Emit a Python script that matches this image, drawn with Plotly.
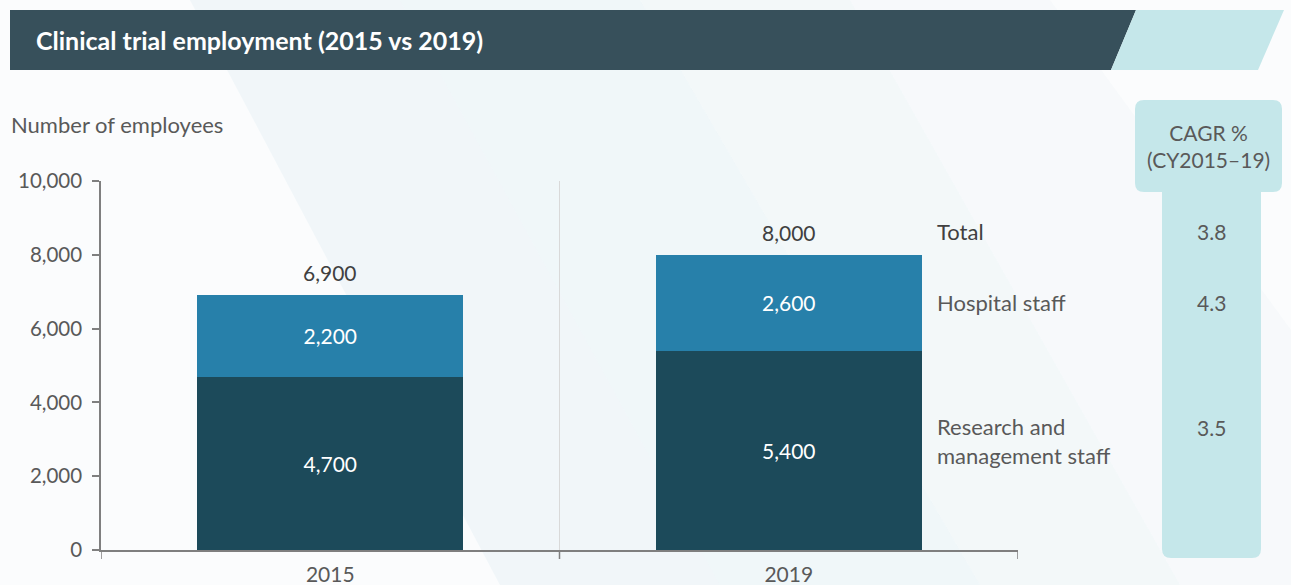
import plotly.graph_objects as go

# ---- data ----
years = ["2015", "2019"]
research_staff = [4700, 5400]
hospital_staff = [2200, 2600]
totals = [6900, 8000]
cagr_labels = ["Total", "Hospital staff", "Research and<br>management staff"]
cagr_values = [3.8, 4.3, 3.5]
y_ticks = [0, 2000, 4000, 6000, 8000, 10000]

# ---- page geometry (pixels) ----
W, H = 1291, 585
FONT = "Lato"
DARK = "#1C4A5A"
BLUE = "#2780AA"
BAND = "#37505B"
CYAN = "#C5E7EA"
GREY_TXT = "#595959"


def px(x):
    return x / W


def py(y):
    return 1 - y / H


def poly(points):
    pts = [f"{px(x):.5f},{py(y):.5f}" for x, y in points]
    return "M " + " L ".join(pts) + " Z"


def rounded_rect(x0, y0, x1, y1, r_top, r_bot):
    # rounded rectangle in pixel space, converted to paper coords
    segs = [
        f"M {px(x0 + r_top):.5f},{py(y0):.5f}",
        f"L {px(x1 - r_top):.5f},{py(y0):.5f}",
        f"Q {px(x1):.5f},{py(y0):.5f} {px(x1):.5f},{py(y0 + r_top):.5f}",
        f"L {px(x1):.5f},{py(y1 - r_bot):.5f}",
        f"Q {px(x1):.5f},{py(y1):.5f} {px(x1 - r_bot):.5f},{py(y1):.5f}",
        f"L {px(x0 + r_bot):.5f},{py(y1):.5f}",
        f"Q {px(x0):.5f},{py(y1):.5f} {px(x0):.5f},{py(y1 - r_bot):.5f}",
        f"L {px(x0):.5f},{py(y0 + r_top):.5f}",
        f"Q {px(x0):.5f},{py(y0):.5f} {px(x0 + r_top):.5f},{py(y0):.5f}",
        "Z",
    ]
    return " ".join(segs)


fig = go.Figure()

for vals, col, name in [(research_staff, DARK, "Research and management staff"),
                        (hospital_staff, BLUE, "Hospital staff")]:
    fig.add_trace(go.Bar(
        x=[0, 1], y=vals, name=name,
        marker=dict(color=col, line=dict(width=0)),
        texttemplate="%{y:,.0f}", textposition="inside", insidetextanchor="middle",
        textfont=dict(family=FONT, size=21, color="white"),
        constraintext="none", width=0.58, hoverinfo="skip",
    ))

shapes = []

# faint diagonal background bands
bg_bands = [
    ([(190, 0), (400, 0), (720, 585), (500, 585)], "rgba(205,228,236,0.22)"),
    ([(400, 0), (640, 0), (980, 585), (720, 585)], "rgba(215,234,241,0.30)"),
    ([(640, 0), (850, 0), (1180, 585), (980, 585)], "rgba(225,238,243,0.30)"),
    ([(850, 0), (1050, 0), (1291, 330), (1291, 585), (1180, 585)], "rgba(232,242,246,0.22)"),
]
for pts, col in bg_bands:
    shapes.append(dict(type="path", xref="paper", yref="paper", path=poly(pts),
                       fillcolor=col, line=dict(width=0), layer="below"))

# title banner
shapes.append(dict(type="path", xref="paper", yref="paper",
                   path=poly([(10, 10), (1136, 10), (1111, 70), (10, 70)]),
                   fillcolor=BAND, line=dict(width=0), layer="below"))
shapes.append(dict(type="path", xref="paper", yref="paper",
                   path=poly([(1136, 10), (1284, 10), (1258, 70), (1111, 70)]),
                   fillcolor=CYAN, line=dict(width=0), layer="below"))

# CAGR panel
shapes.append(dict(type="path", xref="paper", yref="paper",
                   path=rounded_rect(1135, 100, 1282, 192, 9, 9),
                   fillcolor=CYAN, line=dict(width=0), layer="below"))
shapes.append(dict(type="path", xref="paper", yref="paper",
                   path=rounded_rect(1162, 180, 1261, 558, 0, 9),
                   fillcolor=CYAN, line=dict(width=0), layer="below"))

# divider between the two years
shapes.append(dict(type="line", xref="x", yref="y", x0=0.5, x1=0.5, y0=0, y1=10000,
                   line=dict(color="#D9D9D9", width=1), layer="below"))

annotations = []

# title
annotations.append(dict(xref="paper", yref="paper", x=px(34), y=py(40),
                        xanchor="left", yanchor="middle", showarrow=False,
                        text="<b>Clinical trial employment (2015 vs 2019)</b>",
                        font=dict(family=FONT, size=25, color="white")))
# axis caption
annotations.append(dict(xref="paper", yref="paper", x=px(9), y=py(124),
                        xanchor="left", yanchor="middle", showarrow=False,
                        text="Number of employees",
                        font=dict(family=FONT, size=22, color=GREY_TXT)))

# totals above bars
for i, tot in enumerate(totals):
    annotations.append(dict(xref="x", yref="y", x=i, y=tot, yanchor="bottom",
                            yshift=8, showarrow=False, text=f"{tot:,}",
                            font=dict(family=FONT, size=21, color="#404040")))

# CAGR header
annotations.append(dict(xref="paper", yref="paper", x=px(1208), y=py(146),
                        xanchor="center", yanchor="middle", showarrow=False,
                        text="CAGR %<br>(CY2015–19)", align="center",
                        font=dict(family=FONT, size=21, color=GREY_TXT)))

# series labels and CAGR values, placed beside the 2019 bar
label_y = [totals[1], research_staff[1] + hospital_staff[1] / 2, research_staff[1] / 2]
label_shift = [23, 0, 9]
value_shift = [23, 0, 23]
label_col = ["#404040", GREY_TXT, GREY_TXT]
for lab, val, ly, sh, vsh, col in zip(cagr_labels, cagr_values, label_y,
                                      label_shift, value_shift, label_col):
    annotations.append(dict(xref="paper", yref="y", x=px(935), y=ly, yshift=sh,
                            xanchor="left", yanchor="middle", showarrow=False,
                            text=lab, align="left",
                            font=dict(family=FONT, size=22, color=col)))
    annotations.append(dict(xref="paper", yref="y", x=px(1211), y=ly, yshift=vsh,
                            xanchor="center", yanchor="middle", showarrow=False,
                            text=f"{val:.1f}",
                            font=dict(family=FONT, size=21, color=GREY_TXT)))

fig.update_layout(
    width=W, height=H,
    margin=dict(l=0, r=0, t=0, b=0, autoexpand=False),
    paper_bgcolor="#FBFCFD",
    plot_bgcolor="rgba(0,0,0,0)",
    barmode="stack",
    showlegend=False,
    shapes=shapes,
    annotations=annotations,
    xaxis=dict(
        domain=[px(101), px(1018)],
        range=[-0.5, 1.5],
        tickvals=[0, 1], ticktext=years,
        ticks="", showline=True, linecolor="#7F7F7F", linewidth=1.5,
        showgrid=False, zeroline=False, automargin=False,
        tickfont=dict(family=FONT, size=21, color=GREY_TXT),
        ticklabelstandoff=5,
    ),
    yaxis=dict(
        domain=[py(550), py(181)],
        range=[0, 10000],
        tickvals=y_ticks, ticktext=[f"{v:,}" for v in y_ticks],
        ticks="outside", ticklen=7, tickcolor="#7F7F7F", tickwidth=1.5,
        showline=True, linecolor="#7F7F7F", linewidth=1.5,
        showgrid=False, zeroline=False, automargin=False,
        tickfont=dict(family=FONT, size=20.5, color=GREY_TXT),
        ticklabelstandoff=6,
    ),
)

# boundary ticks below the category axis (x = -0.5, 0.5, 1.5)
for xb in [-0.5, 0.5, 1.5]:
    fig.add_shape(type="line", xref="x", yref="paper", x0=xb, x1=xb,
                  y0=py(550), y1=py(559), line=dict(color="#7F7F7F", width=1.5))

fig.write_html("out.html")
